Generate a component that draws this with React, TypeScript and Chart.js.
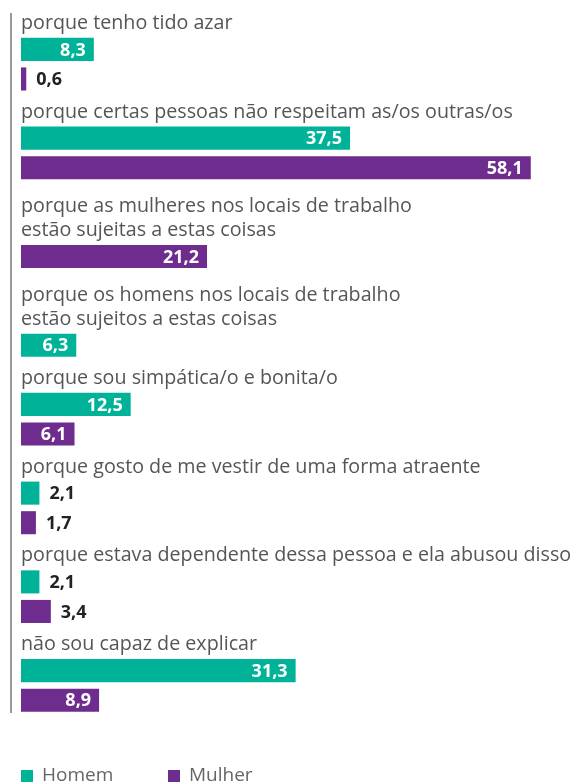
import React, { useEffect, useRef } from "react";
import { Chart, registerables } from "chart.js";

Chart.register(...registerables);

// ---- data ----
const categoryLines: string[][] = [
  ["porque tenho tido azar"],
  ["porque certas pessoas não respeitam as/os outras/os"],
  ["porque as mulheres nos locais de trabalho", "estão sujeitas a estas coisas"],
  ["porque os homens nos locais de trabalho", "estão sujeitos a estas coisas"],
  ["porque sou simpática/o e bonita/o"],
  ["porque gosto de me vestir de uma forma atraente"],
  ["porque estava dependente dessa pessoa e ela abusou disso"],
  ["não sou capaz de explicar"],
];
const homemValues: (number | null)[] = [8.3, 37.5, null, 6.3, 12.5, 2.1, 2.1, 31.3];
const mulherValues: (number | null)[] = [0.6, 58.1, 21.2, null, 6.1, 1.7, 3.4, 8.9];
const seriesNames = ["Homem", "Mulher"];
const seriesColors = ["#00b398", "#6d2c8e"];
const xMax = 62;

const SLOTS = 3;
const FONT = "'Open Sans', 'DejaVu Sans', sans-serif";

function buildSlots() {
  const labels: string[] = [];
  const h: (number | null)[] = [];
  const m: (number | null)[] = [];
  categoryLines.forEach((lines, k) => {
    for (let i = 0; i < SLOTS; i++) {
      labels.push(`${k}-${i}`);
      h.push(null);
      m.push(null);
    }
    let s = k * SLOTS + lines.length;
    if (homemValues[k] != null) {
      h[s] = homemValues[k];
      s++;
    }
    if (mulherValues[k] != null) {
      m[s] = mulherValues[k];
      s++;
    }
  });
  return { labels, h, m };
}

const fmt = (v: number) => v.toFixed(1).replace(".", ",");

const decorPlugin = {
  id: "decor",
  beforeDatasetsDraw(chart: any) {
    const { ctx, chartArea } = chart;
    ctx.save();
    ctx.strokeStyle = "#9a9a9a";
    ctx.lineWidth = 2;
    ctx.beginPath();
    ctx.moveTo(chartArea.left - 10, chartArea.top + 8);
    ctx.lineTo(chartArea.left - 10, chartArea.bottom - 2);
    ctx.stroke();
    ctx.restore();
  },
  afterDatasetsDraw(chart: any) {
    const { ctx, chartArea } = chart;
    const y = chart.scales.y;
    ctx.save();
    // category labels
    ctx.font = `400 19.7px ${FONT}`;
    ctx.fillStyle = "#555555";
    ctx.textBaseline = "middle";
    ctx.textAlign = "left";
    categoryLines.forEach((lines, k) => {
      const first = k * SLOTS + lines.length;
      const yb = y.getPixelForValue(first);
      lines.forEach((t, i) => {
        const yy = yb - 26 - (lines.length - 1 - i) * 24;
        ctx.fillText(t, chartArea.left, yy);
      });
    });
    // value labels
    ctx.font = `700 18px ${FONT}`;
    chart.data.datasets.forEach((ds: any, di: number) => {
      const meta = chart.getDatasetMeta(di);
      ds.data.forEach((v: number | null, j: number) => {
        if (v == null) return;
        const el: any = meta.data[j];
        if (v >= 5) {
          ctx.fillStyle = "#ffffff";
          ctx.textAlign = "right";
          ctx.fillText(fmt(v), el.x - 8, el.y + 1);
        } else {
          ctx.fillStyle = "#222222";
          ctx.textAlign = "left";
          ctx.fillText(fmt(v), el.x + 10, el.y + 1);
        }
      });
    });
    ctx.restore();
  },
  afterDraw(chart: any) {
    const { ctx, chartArea } = chart;
    ctx.save();
    ctx.font = `400 19px ${FONT}`;
    ctx.textBaseline = "middle";
    ctx.textAlign = "left";
    chart.data.datasets.forEach((ds: any, i: number) => {
      const x = chartArea.left + i * 147;
      const yc = 776;
      ctx.fillStyle = ds.backgroundColor;
      ctx.fillRect(x, yc - 6, 12, 12);
      ctx.fillStyle = "#666666";
      ctx.fillText(ds.label, x + 21, yc);
    });
    ctx.restore();
  },
};

export default function App() {
  const ref = useRef<HTMLCanvasElement | null>(null);
  useEffect(() => {
    document.body.style.margin = "0";
    const { labels, h, m } = buildSlots();
    const chart = new Chart(ref.current as HTMLCanvasElement, {
      type: "bar",
      data: {
        labels,
        datasets: [
          {
            label: seriesNames[0],
            data: h,
            backgroundColor: seriesColors[0],
            grouped: false,
            categoryPercentage: 1,
            barPercentage: 0.78,
          } as any,
          {
            label: seriesNames[1],
            data: m,
            backgroundColor: seriesColors[1],
            grouped: false,
            categoryPercentage: 1,
            barPercentage: 0.78,
          } as any,
        ],
      },
      options: {
        indexAxis: "y",
        animation: false,
        responsive: false,
        devicePixelRatio: 1,
        layout: { padding: { left: 21, right: 11, top: 5, bottom: 67 } },
        scales: {
          x: { type: "linear", min: 0, max: xMax, display: false },
          y: { type: "category", display: false, offset: true },
        },
        plugins: {
          legend: { display: false },
          tooltip: { enabled: false },
        },
      },
      plugins: [decorPlugin],
    });
    return () => chart.destroy();
  }, []);
  return (
    <canvas ref={ref} width={576} height={782} style={{ display: "block" }} />
  );
}
